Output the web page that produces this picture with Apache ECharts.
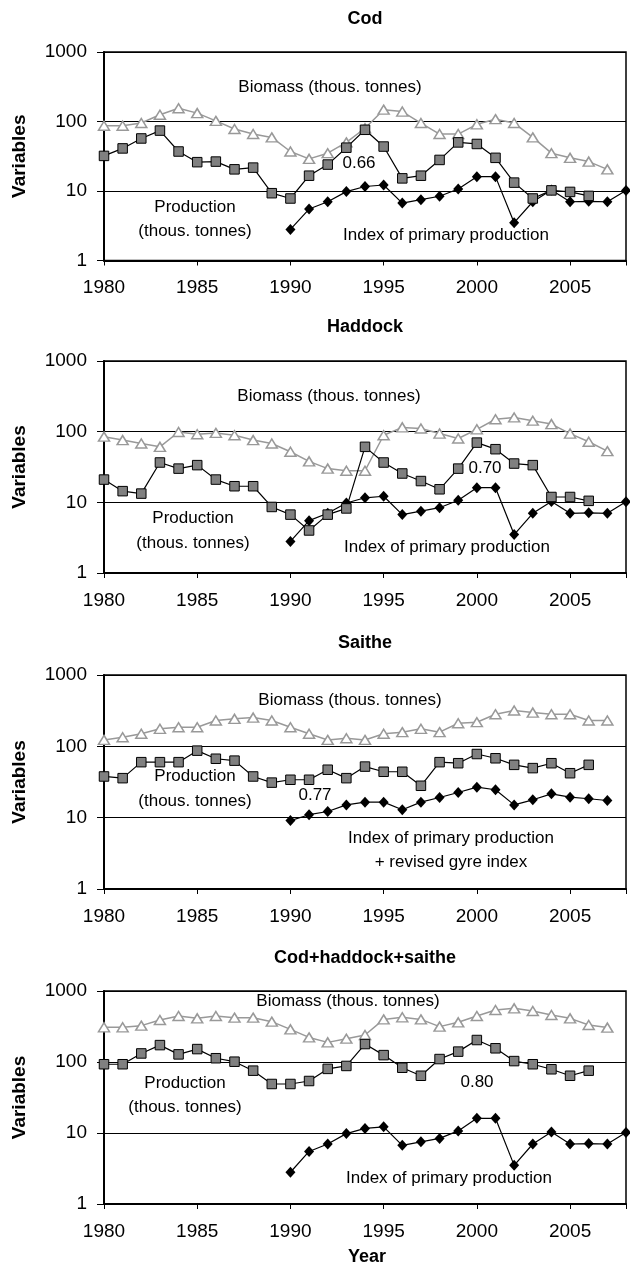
<!DOCTYPE html>
<html>
<head>
<meta charset="utf-8">
<script src="https://cdn.jsdelivr.net/npm/echarts@6/dist/echarts.min.js"></script>
<style>
  html, body { margin: 0; padding: 0; background: #fff; }
  #chart { width: 630px; height: 1266px; }
</style>
</head>
<body>
<div id="chart"></div>
<script>
// Stock biomass, production and primary production index, 1980-2008
const xTicks = [1980, 1985, 1990, 1995, 2000, 2005];
const yTicks = [1, 10, 100, 1000];

// Index of primary production (1990-2008), shared by cod, haddock and the total
const primaryIndex = [2.8, 5.5, 7.0, 9.8, 11.6, 12.2, 6.7, 7.5, 8.4, 10.7, 16.1, 16.1, 3.5, 7.0, 10.3, 7.0, 7.1, 7.0, 10.2];
// Index of primary production + revised gyre index (1990-2007), saithe
const saitheIndex = [9.1, 11.0, 12.2, 15.1, 16.5, 16.5, 12.9, 16.5, 19.2, 22.5, 26.8, 24.6, 15.1, 17.8, 21.6, 19.4, 18.4, 17.4];

// Biomass (1980-2007) and production (1980-2006), thousand tonnes
const codBiomass = [87, 87, 95, 125, 155, 132, 102, 78, 66, 59, 37, 29, 35, 50, 80, 148, 139, 95, 66, 66, 91, 108, 95, 59, 35, 30, 26.5, 20.5];
const codProduction = [32, 41, 57, 74, 37, 26, 26.5, 20.5, 21.7, 9.3, 7.8, 16.6, 24, 42, 76, 43.6, 15.2, 16.6, 28, 50, 47.5, 30, 13.2, 7.8, 10.2, 9.7, 8.5];

const haddockBiomass = [85, 76, 68, 61, 99, 92, 96, 89, 76, 68, 52, 38, 30, 28, 28, 89, 115, 111, 94, 80, 108, 150, 159, 143, 128, 94, 72, 53];
const haddockProduction = [21, 14.4, 13.3, 36.6, 30, 33.6, 21, 16.9, 16.9, 8.6, 6.7, 4.0, 6.7, 8.2, 61, 36.6, 25.6, 20, 15.3, 30, 70, 56.5, 35.4, 33.6, 11.9, 11.9, 10.5];

const saitheBiomass = [123, 134, 150, 176, 185, 185, 230, 243, 253, 230, 185, 150, 123, 130, 123, 150, 158, 176, 158, 211, 218, 282, 318, 297, 282, 282, 230, 230];
const saitheProduction = [37.8, 35.8, 60, 60, 60, 87, 67, 63, 37.8, 31, 34, 34, 47, 35.8, 52, 44, 44, 28, 60, 58, 78, 68, 55, 49.5, 58, 42, 55];

const totalBiomass = [308, 308, 325, 391, 445, 412, 445, 421, 421, 370, 288, 222, 189, 213, 240, 398, 426, 398, 315, 362, 445, 540, 570, 523, 459, 412, 332, 305];
const totalProduction = [93, 93, 132, 173, 128, 152, 113, 101, 75.5, 49, 49, 54, 80, 88, 179, 125, 83, 64, 110, 140, 204, 156, 103, 93, 79, 64, 75.5];

const panelTitles = ['Cod', 'Haddock', 'Saithe', 'Cod+haddock+saithe'];
const correlations = ['0.66', '0.70', '0.77', '0.80'];

const panels = [
  { biomass: codBiomass, production: codProduction, index: primaryIndex,
    top: 52, height: 208.5, titleY: 19,
    bio: [330, 87], corr: [359, 163], prod: [195, 207, 231], idx: [446, 235],
    idxText: ['Index of primary production'] },
  { biomass: haddockBiomass, production: haddockProduction, index: primaryIndex,
    top: 361, height: 212, titleY: 327,
    bio: [329, 396], corr: [485, 468], prod: [193, 518, 543], idx: [447, 547],
    idxText: ['Index of primary production'] },
  { biomass: saitheBiomass, production: saitheProduction, index: saitheIndex,
    top: 675, height: 214, titleY: 643,
    bio: [350, 700], corr: [315, 795], prod: [195, 776, 801], idx: [451, 838],
    idxText: ['Index of primary production', '+ revised gyre index'] },
  { biomass: totalBiomass, production: totalProduction, index: primaryIndex,
    top: 991, height: 213, titleY: 958,
    bio: [348, 1001], corr: [477, 1082], prod: [185, 1083, 1107], idx: [449, 1178],
    idxText: ['Index of primary production'] }
];

const FONT = '"Liberation Sans", Arial, Helvetica, sans-serif';
const PLOT_LEFT = 104, PLOT_RIGHT = 4;

function pairs(startYear, values) {
  return values.map((v, i) => [startYear + i, v]);
}

const grid = [], xAxis = [], yAxis = [], series = [], graphic = [];

function text(x, y, str, font, extra) {
  graphic.push(Object.assign({
    type: 'text', x: x, y: y, silent: true,
    style: { text: str, fill: '#000', font: font + ' ' + FONT, align: 'center', verticalAlign: 'middle' }
  }, extra || {}));
}

panels.forEach((p, k) => {
  grid.push({
    left: PLOT_LEFT, right: PLOT_RIGHT, top: p.top, height: p.height,
    show: true, borderColor: '#000', borderWidth: 1.5, backgroundColor: 'transparent'
  });
  xAxis.push({
    gridIndex: k, type: 'value', min: 1980, max: 2008, interval: 5,
    axisLine: { show: true, onZero: false, lineStyle: { color: '#000', width: 2 } },
    axisTick: { show: true, length: 5, lineStyle: { color: '#000', width: 1 } },
    axisLabel: {
      margin: 18, color: '#000', fontSize: 19, fontFamily: FONT,
      formatter: v => (xTicks.indexOf(v) >= 0 ? String(v) : '')
    },
    splitLine: { show: false }
  });
  yAxis.push({
    gridIndex: k, type: 'log', logBase: 10, min: yTicks[0], max: yTicks[yTicks.length - 1],
    axisLine: { show: true, lineStyle: { color: '#000', width: 2 } },
    axisTick: { show: true, length: 7, lineStyle: { color: '#000', width: 1 } },
    axisLabel: {
      margin: 17, color: '#000', fontSize: 19, fontFamily: FONT,
      formatter: v => String(Math.round(v))
    },
    splitLine: { show: true, lineStyle: { color: '#000', width: 1 } },
    minorTick: { show: false }, minorSplitLine: { show: false }
  });

  series.push({
    type: 'line', xAxisIndex: k, yAxisIndex: k, data: pairs(1980, p.biomass),
    symbol: 'triangle', symbolSize: [11, 9],
    itemStyle: { color: '#fff', borderColor: '#999', borderWidth: 1.5 },
    lineStyle: { color: '#999', width: 1.5 }, z: 2, animation: false
  });
  series.push({
    type: 'line', xAxisIndex: k, yAxisIndex: k, data: pairs(1990, p.index),
    symbol: 'diamond', symbolSize: [10, 11],
    itemStyle: { color: '#000', borderColor: '#000', borderWidth: 0 },
    lineStyle: { color: '#000', width: 1.2 }, z: 3, animation: false
  });
  series.push({
    type: 'line', xAxisIndex: k, yAxisIndex: k, data: pairs(1980, p.production),
    symbol: 'rect', symbolSize: 9.5,
    itemStyle: { color: '#808080', borderColor: '#000', borderWidth: 1 },
    lineStyle: { color: '#000', width: 1.2 }, z: 4, animation: false
  });

  // Panel title and axis name
  text(365, p.titleY, panelTitles[k], 'bold 18px');
  text(20, p.top + p.height / 2, 'Variables', 'bold 19px', { rotation: Math.PI / 2 });

  // Series annotations
  text(p.bio[0], p.bio[1], 'Biomass (thous. tonnes)', '17px');
  text(p.corr[0], p.corr[1], correlations[k], '17px');
  text(p.prod[0], p.prod[1], 'Production', '17px');
  text(p.prod[0], p.prod[2], '(thous. tonnes)', '17px');
  p.idxText.forEach((t, j) => text(p.idx[0], p.idx[1] + j * 24, t, '17px'));
});

text(367, 1257, 'Year', 'bold 18px');

const chart = echarts.init(document.getElementById('chart'), null, { renderer: 'canvas' });
chart.setOption({
  backgroundColor: '#fff',
  animation: false,
  grid: grid, xAxis: xAxis, yAxis: yAxis, series: series,
  graphic: { elements: graphic }
});
</script>
</body>
</html>
